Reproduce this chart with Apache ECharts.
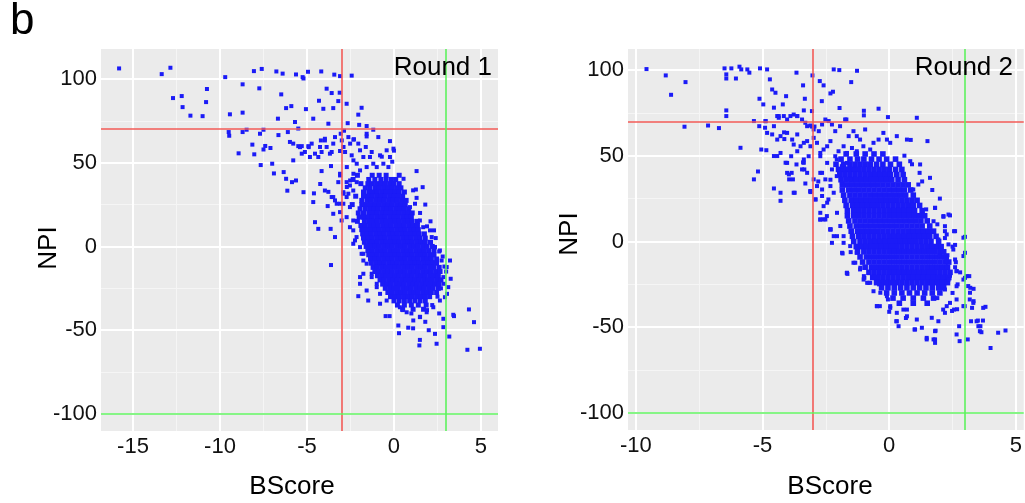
<!DOCTYPE html>
<html>
<head>
<meta charset="utf-8">
<script src="https://cdn.jsdelivr.net/npm/echarts@6.0.0/dist/echarts.min.js"></script>
<style>
  html, body { margin: 0; padding: 0; background: #fff; }
  #chart { width: 1025px; height: 503px; }
</style>
</head>
<body>
<div id="chart"></div>
<script>
// axis ticks
var yTicks = [-100, -50, 0, 50, 100];
var yMinor = [-75, -25, 25, 75];
var xTicks1 = [-15, -10, -5, 0, 5];
var xMinor1 = [-12.5, -7.5, -2.5, 2.5];
var xTicks2 = [-10, -5, 0, 5];
var xMinor2 = [-7.5, -2.5, 2.5];

// cut-off lines [BScore, NPI]
var redCut = [-3, 70];
var greenCut = [3, -100];

// Round 1: scattered points [BScore, NPI]
var r1Scatter = [
  [-15.8,106.3],[-13.35,102.9],[-12.85,106.7],[-12.7,88.6],[-12.2,89.8],[-12.15,83.2],[-11.7,78.1],[-11.0,77.8],[-10.8,86.2],[-10.75,94],
  [-9.7,101.1],[-9.5,68.3],[-9.47,66.1],[-9.43,78.9],[-8.93,55.6],[-8.7,96.8],[-8.7,79.9],[-8.7,68.3],[-8.47,69.7],[-8.14,60.8],
  [-8.05,104.7],[-8.03,55],[-7.74,94.4],[-7.7,67.3],[-7.66,48.6],[-7.6,106],[-7.5,69.7],[-7.5,57.9],[-7.4,60],[-7.1,58.8],
  [-7.0,49.4],[-6.9,43.6],[-6.76,104.5],[-6.67,76.3],[-6.64,66.5],[-6.48,90.8],[-6.4,103.2],[-6.34,44.4],[-6.2,82.6],[-6.2,40.4],
  [-6.13,33.3],[-6.1,68.3],[-5.9,83.8],[-5.86,38.4],[-5.79,51.4],[-5.69,74.3],[-5.63,102.7],[-5.63,39.4],[-5.5,70.4],[-5.4,59.3],
  [-5.25,101.1],[-5.2,100.3],[-5.2,32.4],[-5.06,82],[-4.94,104.3],[-4.9,59.3],[-4.64,76.3],[-4.6,31.7],[-4.64,26.5],[-4.54,14.5],
  [-4.35,10.5],[-4.31,87],[-4.18,104.5],[-4.16,45],[-4.24,37.3],[-4.06,82.2],[-3.97,63.3],[-3.87,94.2],[-3.77,73.3],[-3.77,32.6],
  [-3.81,24.1],[-3.64,10.5],[-3.62,48],[-3.58,91.6],[-3.49,82.6],[-3.43,102.6],[-3.39,5.6],[-3.2,86.8],[-3.12,91.8],[-3.1,101.7],
  [-3.1,42.4],[-3.1,57],[-2.87,69.1],[-2.72,85.2],[-2.66,73.6],[-2.43,102],[-2.3,64],[-2.05,78.7],[-1.86,82.8],[-2.0,72.6],
  [-1.57,71.9],[-1.57,65.7],[-1.19,69.7],[-0.9,65.3],[-0.7,53.6],[-0.23,62.9],[0,57.2],[-0.1,50.6],[1.3,45],[1.26,34],
  [1.65,35.4],[0.55,40.4],
  [-5.98,62.4],[-5.79,61.4],[-5.5,59.9],[-5.3,59.9],[-5.3,55.4],[-5.12,56.4],[-4.92,59.9],[-4.83,53.4],[-4.73,61.4],[-4.54,55.4],
  [-4.35,53.4],[-4.25,59.4],[-4.2,63.3],[-4.16,56.4],[-3.97,64.3],[-3.87,59.4],[-3.68,55.4],[-3.58,56.4],[-3.49,61.4],[-3.39,65.3],
  [-3.06,67.3],[-3.0,63.3],[-2.9,59.4],[-2.81,56.4],[-2.62,65.3],[-2.52,61.4],[-2.43,54.4],[-2.33,51.4],[-2.33,63.8],[-2.14,49.4],
  [-2.05,61.4],[-1.95,57.4],[-1.76,53.4],[-1.62,59.4],[-1.57,67.3],[-1.38,53.4],[-1.28,56.4],[-1.19,49.4],[-0.8,54.4],[-0.61,49.4],
  [-0.42,57.4],[-0.23,53.4],[-0.03,58.4],[-0.32,47.4],[-0.99,47.4],[-1.57,47.4],[-1.95,45.4],[-2.33,43.4],[-2.71,47.4],[-2.52,39.4],
  [-2.71,35.5],[-2.14,38.4],[-3.1,43.4],[-3.2,38.4],[-3.58,29.5],[-3.39,27.5],[-3.1,25.5],[-2.62,31.5],[-2.9,31.5],
  [-2.72,38.4],[-2.53,36.4],[-2.34,33.4],[-2.91,32.4],[-2.72,29.5],[-3.97,33.4],[-3.49,29.5],[-2.91,25.5],[-3.1,20.5],[-3.01,15.5],
  [-2.72,17.5],[-2.53,11.5],[-2.34,15.5],[-3.29,25.5],[-3.49,19.5],[-2.53,23.5],[-2.15,5.6],[-2.34,1.6],[-1.86,-4.4],[-1.76,-8.4],
  [-1.95,-18.3],[-1.76,-16.3],[-1.57,-26.3],[-1.28,-18.3],[-0.99,-24.3],
  [1.1,33.5],[1.3,29],[1.8,25],[1.5,20],[2.1,15],[1.9,12],[2.3,9.6],[2.4,5],[2.36,-0.4],[2.6,-3],
  [2.8,-6],[3.22,-8.4],[2.9,-12],[3.0,-15],[3.26,-19.3],[2.87,-22.3],[3.05,-28.3],[2.7,-25],[2.5,-30],[2.2,-35],
  [1.9,-38],[2.6,-40],[2.84,-43.2],[2.84,-48.2],[3.41,-40.8],[3.45,-41.6],[4.31,-37.6],[4.6,-45.2],[4.22,-61.7],[4.94,-61.1],
  [3.18,-53.8],[2.45,-58.1],[2.36,-52.2],[1.49,-55.8],[1.46,-59.1],[0.25,-47.2],[0.29,-51.8],[0.82,-48.5],[1.1,-48.9],[-0.48,-41.6],
  [-0.25,-41.6],[-0.8,-34.2],[-1.48,-32.3],[-2.05,-29.7],[-1.95,-22.3],[-3.62,-11.1],[2.22,-9.4],[1.5,-42],[1.0,-40],[0.5,-38],
  [1.8,-45],[2.0,-50],
  [0.92,23.5],[1.21,25.5],[1.49,15.5],[1.68,11.5],[2.07,9.6],[2.17,5.6],[2.36,-0.4],[2.64,-2.4],[2.74,-8.4],[3.03,-12.3],
  [2.84,-18.3],[3.12,-24.3],[2.93,-30.3],[2.64,-32.3],[2.26,-36.3],[1.88,-39.3],[1.49,-42.2],[1.11,-44.2],[0.73,-39.3],[0.34,-36.3],
  [-2.34,9.6],[-2.24,3.6],[-1.95,-0.4],[-1.76,-4.4],[-1.57,-10.3],[-1.28,-16.3],[-0.99,-22.3],[-0.8,-28.3],[-0.42,-32.3]
];

// Round 1: dense core, rows of [NPI, [BScore...]]
var r1Core = [
  [42.5, [-2.1,-1.25,-0.85,-0.45,0.3]],
  [40, [-2.35,-1.45,-1.1,-0.75,-0.45,-0.15,0.1]],
  [37.5, [-1.9,-1.5,-1.25,-1.0,-0.75,-0.5,-0.25,0.0,0.3]],
  [35, [-1.65,-1.4,-1.1,-0.85,-0.6,-0.35,-0.1,0.15,0.4]],
  [32.5, [-1.75,-1.45,-1.2,-0.95,-0.7,-0.45,-0.2,0.05,0.3,0.6]],
  [30, [-2.2,-1.75,-1.5,-1.25,-1.0,-0.75,-0.5,-0.25,0.0,0.25,0.5]],
  [27.5, [-1.85,-1.55,-1.3,-1.05,-0.8,-0.55,-0.3,-0.05,0.2,0.45,0.7]],
  [25, [-2.4,-1.85,-1.6,-1.35,-1.1,-0.85,-0.6,-0.35,-0.1,0.15,0.4,0.65]],
  [22.5, [-1.95,-1.65,-1.4,-1.15,-0.9,-0.65,-0.4,-0.15,0.1,0.35,0.6,0.85]],
  [20, [-2.05,-1.75,-1.45,-1.2,-0.95,-0.7,-0.45,-0.2,0.05,0.3,0.55,0.8,1.05]],
  [17.5, [-2.0,-1.75,-1.5,-1.25,-1.0,-0.75,-0.5,-0.25,0.0,0.25,0.5,0.75,1.0]],
  [15, [-2.1,-1.7,-1.45,-1.2,-0.95,-0.7,-0.45,-0.2,0.05,0.3,0.55,0.8,1.05,1.35]],
  [12.5, [-1.9,-1.65,-1.4,-1.15,-0.9,-0.65,-0.4,-0.15,0.1,0.35,0.6,0.85,1.1,1.35]],
  [10, [-1.85,-1.6,-1.35,-1.1,-0.85,-0.6,-0.35,-0.1,0.15,0.4,0.65,0.9,1.15,1.4]],
  [7.5, [-1.8,-1.55,-1.3,-1.05,-0.8,-0.55,-0.3,-0.05,0.2,0.45,0.7,0.95,1.2,1.45,1.75]],
  [5, [-1.75,-1.5,-1.25,-1.0,-0.75,-0.5,-0.25,0.0,0.25,0.5,0.75,1.0,1.25,1.5,1.8]],
  [2.5, [-1.7,-1.45,-1.2,-0.95,-0.7,-0.45,-0.2,0.05,0.3,0.55,0.8,1.05,1.3,1.55,1.8,2.1]],
  [0, [-1.6,-1.35,-1.1,-0.85,-0.6,-0.35,-0.1,0.15,0.4,0.65,0.9,1.15,1.4,1.65,1.9,2.2]],
  [-2.5, [-1.5,-1.25,-1.0,-0.75,-0.5,-0.25,0.0,0.25,0.5,0.75,1.0,1.25,1.5,1.75,2.0,2.3]],
  [-5, [-1.45,-1.2,-0.95,-0.7,-0.45,-0.2,0.05,0.3,0.55,0.8,1.05,1.3,1.55,1.8,2.05,2.3]],
  [-7.5, [-1.35,-1.1,-0.85,-0.6,-0.35,-0.1,0.15,0.4,0.65,0.9,1.15,1.4,1.65,1.9,2.15,2.45]],
  [-10, [-1.3,-1.05,-0.8,-0.55,-0.3,-0.05,0.2,0.45,0.7,0.95,1.2,1.45,1.7,1.95,2.2,2.45]],
  [-12.5, [-1.2,-0.95,-0.7,-0.45,-0.2,0.05,0.3,0.55,0.8,1.05,1.3,1.55,1.8,2.05,2.3,2.6]],
  [-15, [-1.1,-0.85,-0.6,-0.35,-0.1,0.15,0.4,0.65,0.9,1.15,1.4,1.65,1.9,2.15,2.4,2.65]],
  [-17.5, [-0.95,-0.7,-0.45,-0.2,0.05,0.3,0.55,0.8,1.05,1.3,1.55,1.8,2.05,2.3,2.55]],
  [-20, [-0.8,-0.55,-0.3,-0.05,0.2,0.45,0.7,0.95,1.2,1.45,1.7,1.95,2.2,2.45,2.7]],
  [-22.5, [-0.65,-0.4,-0.15,0.1,0.35,0.6,0.85,1.1,1.35,1.6,1.85,2.1,2.35,2.6]],
  [-25, [-0.5,-0.25,0.0,0.25,0.5,0.75,1.0,1.25,1.5,1.75,2.0,2.25,2.55]],
  [-27.5, [-0.35,-0.1,0.15,0.4,0.65,0.9,1.15,1.4,1.65,1.9,2.15,2.45]],
  [-30, [-0.2,0.05,0.3,0.55,0.8,1.05,1.3,1.55,1.8,2.05]],
  [-32.5, [0.0,0.3,0.6,0.9,1.2,1.5,1.8]],
  [-35, [0.2,0.6,1.0,1.4,1.85]],
  [-37.5, [0.5,1.1,1.7]]
];

// Round 2: scattered points [BScore, NPI]
var r2Scatter = [
  [-9.58,100.5],[-8.82,96.8],[-8.61,85.5],[-8.04,92.9],[-8.08,66.9],[-7.15,67.6],[-6.72,66.1],[-6.5,100.9],[-6.23,100.9],[-6.43,97.4],
  [-6.43,95],[-6.43,76.4],[-6.43,73.1],[-6.05,95],[-5.91,101.9],[-5.84,100.3],[-5.6,100.3],[-5.52,98.4],[-5.87,54.6],[-5.34,36.2],
  [-5.18,40.8],[-5.1,100.9],[-4.82,100.3],[-5.12,83.2],[-5.13,67.2],[-5.05,53.6],[-4.97,79.9],[-4.88,70.1],[-4.9,66.3],[-4.85,53.2],
  [-4.71,94.5],[-4.62,88.6],[-4.49,86.7],[-4.55,78],[-4.55,49.8],[-4.55,30.9],[-4.42,49.8],[-4.36,73.1],[-4.29,23.7],[-4.2,79.9],
  [-4.07,84.7],[-4.15,63.6],[-4.14,59.7],[-4.09,45.9],[-4.03,40],[-3.85,40],[-3.95,36.2],[-3.8,36.2],[-3.73,28.4],[-3.66,98.4],
  [-3.63,73.1],[-3.66,44.9],[-3.4,91],[-3.4,46.1],[-3.33,83.2],[-3.37,76.4],[-3.35,42],[-3.31,33.8],[-3.11,28.8],[-3.03,96.8],
  [-3.05,76],[-3.05,67],[-2.95,67],
  [-2.74,93.5],[-2.66,81.8],[-2.59,91],[-2.19,100.3],[-1.97,99.9],[-2.32,86.3],[-2.22,87.3],[-1.96,77.8],[-1.69,71.1],[-1.5,92.9],
  [-1.27,99.5],[-1.0,76.2],[-1.0,73.5],[-0.42,77.4],[-0.05,72.5],[1.09,72.1],[1.51,58.5],[0.85,59.2],[2.99,2.7],[1.81,19.6],
  [2.14,14.4],[2.4,15.2],[2.6,6],[2.2,6],
  [2.99,-6.6],[2.63,-12.1],[2.66,-17.3],[3.16,-20.2],[2.93,-22.2],[3.2,-27],[3.33,-27.6],[3.18,-33.8],[3.33,-34.8],[3.27,-38.7],
  [2.98,-37.7],[3.8,-38.1],[2.68,-39.5],[2.48,-40.5],[3.23,-46.5],[3.5,-46.1],[3.7,-46.1],[3.6,-49.4],[3.64,-52.9],[2.76,-49.4],
  [2.66,-54.2],[2.78,-58.1],[3.1,-57.1],[4.0,-62.1],[4.3,-53.2],[4.59,-51.9],[1.48,-56.2],[1.81,-57.1],[1.81,-59.1],[1.83,-52],
  [1.0,-51.3],[0.37,-49.4],[0.28,-46.5],[0.66,-44.6],[0.0,-41],[-0.37,-37.7],[-0.05,-33.8],[-0.4,-25],[-0.82,-24.1],[-0.98,-21.2],
  [-1.65,-18.9],[-1.84,-7],[-1.52,-6.2],
  [-5.34,70.2],[-4.88,70.2],[-4.55,67.2],[-4.42,73.1],[-4.36,72.1],[-4.16,73.1],[-4.03,71.1],[-3.9,73.1],[-3.77,74],[-3.63,73.1],
  [-3.44,71.1],[-3.31,69.2],[-3.24,67.2],[-3.11,67.6],[-2.98,65.3],[-2.78,64.3],[-2.65,68.2],[-2.52,71.1],[-2.39,70.2],[-2.26,68.2],
  [-2.13,64.3],[-1.94,67.2],[-1.74,71.1],[-1.6,61.4],[-1.41,64.3],[-1.28,61.4],[-1.15,59.4],[-0.95,65.3],[-0.62,57.5],[-0.42,59.4],
  [-0.23,63.3],[-0.09,59.4],[0.04,57.5],[0.3,61.4],[0.7,59.4],
  [-4.82,63.3],[-4.62,62.4],[-4.42,59.4],[-4.29,61.4],[-4.03,63.3],[-3.83,59.4],[-3.77,56.5],[-3.63,62.4],[-3.5,55.5],[-3.37,57.5],
  [-3.24,58.5],[-3.11,55.5],[-2.98,60.4],[-2.85,57.5],[-2.72,51.6],[-2.59,53.6],[-2.45,55.5],[-2.32,58.5],[-2.13,49.7],[-2.0,52.6],
  [-1.8,55.5],[-1.67,51.6],[-1.47,54.5],[-1.28,52.6],[-1.02,55.5],[-0.75,53.6],
  [-4.29,51.6],[-4.03,45.8],[-3.87,49.7],[-3.63,52.6],[-3.37,47.8],[-3.18,49.7],[-2.72,49.7],[-2.45,45.8],[-2.26,42],[-2.07,47.8],
  [-1.87,43.9],[-1.67,45.8],[-1.41,42],[-1.15,44.9],[-3.96,39.1],[-3.44,42],[-3.24,40],[-2.98,36.2],[-2.72,40],[-2.52,36.2],
  [-2.32,32.3],[-2.07,38.1],[-1.87,34.2],[-1.54,36.2],[-4.29,28.4],[-3.77,28.4],[-3.11,29.4],[-2.85,32.3],[-2.65,26.5],[-2.45,22.6],
  [-2.91,24.5],[-2.72,16.7],[-2.59,12.9],[-2.32,7.1],
  [-2.72,12.8],[-2.46,14.8],[-2.32,7.0],[-2.06,3.1],[-1.8,-0.8],[-1.67,-18.3],[-1.54,-2.7],[-1.28,-6.6],[-1.34,-12.4],[-1.14,-15.3],
  [-1.0,-20.2],[-0.87,-24.1],[-0.62,-29],[-0.49,-37.7],[-0.09,-31.9],[0.04,-37.7],[0.3,-41.6],[0.56,-39.7],[0.7,-43.6],[1.02,-51.3],
  [1.29,-50.3],[1.48,-57.1],[1.75,-57.1],[1.81,-52.3],[2.13,-39.7],[2.4,-35.8],[2.66,-33.8],[2.93,-8.5],[3.06,-20.2],[3.12,-26],
  [3.19,-29.9],[3.32,-35.8],[3.45,-46.5],[3.71,-38.7],[3.52,-49.4],[3.58,-52.3],
  [1.9,10],[2.2,2],[2.5,-3],[2.3,-8],[2.6,-15],[2.4,-20],[2.7,-25],[2.2,-28],[1.9,-33],[2.0,25],
  [1.7,30],[1.3,35],[0.9,45],[1.2,40],[0.6,50],[2.6,-2],[2.8,-18],[2.5,-30],
  [0.83,46.8],[1.22,44.9],[1.61,37.1],[1.15,33.2],[0.95,30.3],[1.46,18.7],[1.81,19.6],[1.75,11.8],[2.14,14.8],[2.34,15.7],
  [2.56,6],[2.2,8.9],[2.27,4.1],[1.94,1.2],[2.93,2.2],[2.53,-4.7],[2.34,-1.7],[2.6,-10.5],[2.27,-11.5],[2.0,-8],
  [2.66,-17.3],[2.34,-22.2],[2.66,-26.1],[2.99,-21.2],[2.93,-37.7],[2.56,-39.7],[2.2,-41.6],[1.94,-46.5],[2.27,-37.7],[1.68,-44.5],
  [-3.37,45.9],[-3.11,29.3],[-2.91,24.5],[-2.65,30.3],[-2.59,20.6],[-2.4,24.5],[-2.72,12.8],[-2.52,12.8],[-2.32,7.0],[-2.19,3.1],
  [-2.26,-0.8],[-1.86,-6.6],[-1.67,-18.3],[-1.41,-12.4],[-1.15,-16.3],[-1.01,-22.2],[-0.75,-24.1],[-0.48,-37.7],[-0.35,-29.9],[0.04,-38.7],
  [0.3,-46.5],[0.7,-39.7],[1.09,-45.5],[-2.65,40],[-2.8,35],[-2.32,36],[-2.19,28.4],[-2.06,16.7],[-1.93,9],[-1.8,3.1]
];

// Round 2: dense core, rows of [NPI, [BScore...]]
var r2Core = [
  [51, [-1.7,-1.3,-0.95,-0.6,-0.25]],
  [48, [-1.9,-1.55,-1.25,-1.0,-0.7,-0.4,-0.1,0.25]],
  [45, [-2.1,-1.8,-1.55,-1.35,-1.15,-0.95,-0.75,-0.5,-0.25,0.05,0.4]],
  [42, [-2.0,-1.8,-1.6,-1.4,-1.2,-1.0,-0.8,-0.6,-0.4,-0.2,0.0,0.25,0.5]],
  [39, [-1.95,-1.75,-1.55,-1.35,-1.15,-0.95,-0.75,-0.55,-0.35,-0.15,0.05,0.3,0.55]],
  [36, [-1.9,-1.7,-1.5,-1.3,-1.1,-0.9,-0.7,-0.5,-0.3,-0.1,0.1,0.35,0.6]],
  [33, [-1.85,-1.65,-1.45,-1.25,-1.05,-0.85,-0.65,-0.45,-0.25,-0.05,0.15,0.35,0.55,0.75]],
  [30, [-1.85,-1.6,-1.4,-1.2,-1.0,-0.8,-0.6,-0.4,-0.2,0.0,0.2,0.4,0.6,0.85]],
  [27, [-1.8,-1.55,-1.35,-1.15,-0.95,-0.75,-0.55,-0.35,-0.15,0.05,0.25,0.45,0.65,0.95]],
  [24, [-1.75,-1.5,-1.3,-1.1,-0.9,-0.7,-0.5,-0.3,-0.1,0.1,0.3,0.5,0.7,0.9,1.1]],
  [21, [-1.7,-1.45,-1.25,-1.05,-0.85,-0.65,-0.45,-0.25,-0.05,0.15,0.35,0.55,0.75,0.95,1.2]],
  [18, [-1.65,-1.4,-1.2,-1.0,-0.8,-0.6,-0.4,-0.2,0.0,0.2,0.4,0.6,0.8,1.0,1.3]],
  [15, [-1.65,-1.4,-1.2,-1.0,-0.8,-0.6,-0.4,-0.2,0.0,0.2,0.4,0.6,0.8,1.0,1.2,1.4]],
  [12, [-1.6,-1.35,-1.15,-0.95,-0.75,-0.55,-0.35,-0.15,0.05,0.25,0.45,0.65,0.85,1.05,1.25,1.5]],
  [9, [-1.55,-1.3,-1.1,-0.9,-0.7,-0.5,-0.3,-0.1,0.1,0.3,0.5,0.7,0.9,1.1,1.3,1.6]],
  [6, [-1.5,-1.25,-1.05,-0.85,-0.65,-0.45,-0.25,-0.05,0.15,0.35,0.55,0.75,0.95,1.15,1.35,1.55,1.75]],
  [3, [-1.45,-1.2,-1.0,-0.8,-0.6,-0.4,-0.2,0.0,0.2,0.4,0.6,0.8,1.0,1.2,1.4,1.6,1.85]],
  [0, [-1.4,-1.15,-0.95,-0.75,-0.55,-0.35,-0.15,0.05,0.25,0.45,0.65,0.85,1.05,1.25,1.45,1.65,1.95]],
  [-3, [-1.3,-1.1,-0.9,-0.7,-0.5,-0.3,-0.1,0.1,0.3,0.5,0.7,0.9,1.1,1.3,1.5,1.7,1.9,2.05]],
  [-6, [-1.25,-1.0,-0.8,-0.6,-0.4,-0.2,0.0,0.2,0.4,0.6,0.8,1.0,1.2,1.4,1.6,1.8,2.0,2.15]],
  [-9, [-1.15,-0.9,-0.7,-0.5,-0.3,-0.1,0.1,0.3,0.5,0.7,0.9,1.1,1.3,1.5,1.7,1.9,2.1,2.25]],
  [-12, [-1.05,-0.8,-0.6,-0.4,-0.2,0.0,0.2,0.4,0.6,0.8,1.0,1.2,1.4,1.6,1.8,2.0,2.2,2.35]],
  [-15, [-0.95,-0.7,-0.5,-0.3,-0.1,0.1,0.3,0.5,0.7,0.9,1.1,1.3,1.5,1.7,1.9,2.1,2.3]],
  [-18, [-0.8,-0.6,-0.4,-0.2,0.0,0.2,0.4,0.6,0.8,1.0,1.2,1.4,1.6,1.8,2.0,2.2,2.4]],
  [-21, [-0.65,-0.45,-0.25,-0.05,0.15,0.35,0.55,0.75,0.95,1.15,1.35,1.55,1.75,1.95,2.15,2.35]],
  [-24, [-0.5,-0.3,-0.1,0.1,0.3,0.5,0.7,0.9,1.1,1.3,1.5,1.7,1.9,2.1,2.3]],
  [-27, [-0.3,-0.05,0.2,0.45,0.7,0.95,1.2,1.45,1.7,1.95,2.15]],
  [-30, [-0.1,0.2,0.5,0.8,1.1,1.4,1.7,2.0]],
  [-33, [0.15,0.55,0.95,1.35,1.75]],
  [-36, [0.4,0.95,1.5]]
];

function buildPoints(rows) {
  var pts = [];
  rows.forEach(function (r) {
    r[1].forEach(function (x) { pts.push([x, r[0]]); });
  });
  return pts;
}

var FONT = 'Liberation Sans, Arial, sans-serif';
var BLUE = '#1b1bf7';
var major = { color: '#ffffff', width: 2, type: 'solid' };
var minor = { color: '#f5f5f5', width: 1, type: 'solid' };

function gridLines(i, xMaj, xMin) {
  var d = [];
  xMin.forEach(function (v) { d.push({ xAxis: v, lineStyle: minor }); });
  yMinor.forEach(function (v) { d.push({ yAxis: v, lineStyle: minor }); });
  xMaj.forEach(function (v) { d.push({ xAxis: v, lineStyle: major }); });
  yTicks.forEach(function (v) { d.push({ yAxis: v, lineStyle: major }); });
  return {
    type: 'line', xAxisIndex: i, yAxisIndex: i, data: [], z: 1, silent: true,
    markLine: { z: 1, silent: true, symbol: ['none', 'none'], label: { show: false }, animation: false, data: d }
  };
}

function cutLines(i) {
  var red = { color: '#f35b57', width: 1.6, type: 'solid' };
  var green = { color: '#5ef25e', width: 1.6, type: 'solid' };
  return {
    type: 'line', xAxisIndex: i, yAxisIndex: i, data: [], z: 5, silent: true,
    markLine: {
      z: 5, silent: true, symbol: ['none', 'none'], label: { show: false }, animation: false,
      data: [
        { xAxis: redCut[0], lineStyle: red },
        { yAxis: redCut[1], lineStyle: red },
        { xAxis: greenCut[0], lineStyle: green },
        { yAxis: greenCut[1], lineStyle: green }
      ]
    }
  };
}

function xAxisOf(i, min, max, ticks) {
  return {
    type: 'value', gridIndex: i, min: min, max: max,
    axisLine: { show: false },
    axisTick: { show: true, length: 3, customValues: ticks, lineStyle: { color: '#333' } },
    axisLabel: { customValues: ticks, margin: 5, fontSize: 22, color: '#111', fontFamily: FONT },
    splitLine: { show: false }
  };
}

function yAxisOf(i, min, max) {
  return {
    type: 'value', gridIndex: i, min: min, max: max,
    axisLine: { show: false },
    axisTick: { show: true, length: 3, customValues: yTicks, lineStyle: { color: '#333' } },
    axisLabel: { customValues: yTicks, margin: 4, fontSize: 22, color: '#111', fontFamily: FONT },
    splitLine: { show: false }
  };
}

function dots(i, pts, size) {
  return {
    type: 'scatter', xAxisIndex: i, yAxisIndex: i, data: pts, z: 2, silent: true,
    symbol: 'rect', symbolSize: size, itemStyle: { color: BLUE, opacity: 1 }
  };
}

var chart = echarts.init(document.getElementById('chart'), null, { renderer: 'canvas' });
chart.setOption({
  animation: false,
  backgroundColor: '#ffffff',
  grid: [
    { left: 101, top: 49, width: 397, height: 382, show: true, backgroundColor: '#ebebeb', borderWidth: 0 },
    { left: 628, top: 49, width: 397, height: 381, show: true, backgroundColor: '#ebebeb', borderWidth: 0 }
  ],
  xAxis: [xAxisOf(0, -16.84, 5.98, xTicks1), xAxisOf(1, -10.31, 5.31, xTicks2)],
  yAxis: [yAxisOf(0, -110.2, 117.9), yAxisOf(1, -109.9, 112.2)],
  series: [
    gridLines(0, xTicks1, xMinor1),
    gridLines(1, xTicks2, xMinor2),
    dots(0, buildPoints(r1Core), 5),
    dots(0, r1Scatter, 4),
    dots(1, buildPoints(r2Core), 5.6),
    dots(1, r2Scatter, 4),
    cutLines(0),
    cutLines(1)
  ],
  graphic: [
    { type: 'text', left: 10, top: 0, style: { text: 'b', font: '44px ' + FONT, fill: '#000' } },
    { type: 'text', x: 492, y: 68, z: 10, style: { text: 'Round 1', font: '26px ' + FONT, fill: '#000', align: 'right', verticalAlign: 'middle' } },
    { type: 'text', x: 1013, y: 68, z: 10, style: { text: 'Round 2', font: '26px ' + FONT, fill: '#000', align: 'right', verticalAlign: 'middle' } },
    { type: 'text', x: 292, y: 487, style: { text: 'BScore', font: '26px ' + FONT, fill: '#000', align: 'center', verticalAlign: 'middle' } },
    { type: 'text', x: 830, y: 487, style: { text: 'BScore', font: '26px ' + FONT, fill: '#000', align: 'center', verticalAlign: 'middle' } },
    { type: 'text', x: 49, y: 248, rotation: Math.PI / 2, style: { text: 'NPI', font: '26px ' + FONT, fill: '#000', align: 'center', verticalAlign: 'middle' } },
    { type: 'text', x: 570, y: 234, rotation: Math.PI / 2, style: { text: 'NPI', font: '26px ' + FONT, fill: '#000', align: 'center', verticalAlign: 'middle' } }
  ]
});
</script>
</body>
</html>
